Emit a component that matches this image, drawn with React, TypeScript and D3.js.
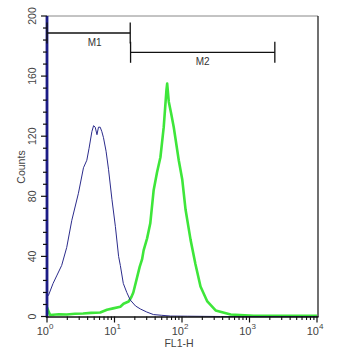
import React from "react";
import * as d3 from "d3";

// Isotype control histogram (navy)
const blueFL1 = [1, 1, 1.05, 1.23, 1.39, 1.65, 1.96, 2.33, 2.92, 3.47, 3.89, 4.2, 4.62, 4.9, 5.18, 5.5, 5.79, 6.14, 6.5, 6.87, 7.5, 8.15, 9.16, 10.3, 11.5, 12.2, 13.5, 15.2, 17.1, 20.5, 24.2, 30, 37.7, 50, 67.5, 120, 372, 1000, 10000];
const blueCounts = [200, 14, 14, 22, 27, 34, 46, 64, 82, 99, 104, 112, 123, 127, 126, 121, 126, 126, 123, 119, 110, 98, 78, 60, 40, 34, 22, 16, 11, 7, 5, 3, 1.3, 0.8, 0.3, 0.2, 0, 0, 0];

// Antibody-stained histogram (green)
const greenFL1 = [1, 1.11, 1.5, 1.96, 2.6, 3.43, 4.5, 6.14, 7.73, 9.55, 12.2, 13.6, 16.2, 17.8, 19, 21.6, 23.6, 25.6, 27, 30.4, 33.9, 38, 42.7, 47.9, 53.6, 58.9, 60.3, 63.7, 69.2, 75.5, 89.5, 101, 113, 134, 158, 188, 237, 315, 526, 1156, 3000, 10000];
const greenCounts = [6, 1, 1.5, 1.3, 1.8, 2, 2.4, 2.7, 4.5, 5.4, 6.5, 8.5, 10, 13, 16, 26, 33, 38, 44, 52, 62, 84, 96, 106, 126, 151, 155, 143, 135, 126, 104, 91, 71, 51, 35, 20, 10, 4, 1.3, 0.4, 0.4, 0.4];

// Markers
const markerNames = ["M1", "M2"];
const markerStart = [1, 17.3];
const markerEnd = [17.1, 2373];

// Ticks
const yMajorTicks = [0, 40, 80, 120, 160, 200];
const xDecades = [1, 10, 100, 1000, 10000];
const xExponents = ["0", "1", "2", "3", "4"];

export default function App() {
  const left = 47, right = 317, top = 16, bottom = 316.5;
  const x = d3.scaleLog().domain([1, 10000]).range([left, right]);
  const y = d3.scaleLinear().domain([0, 200]).range([bottom, top]);

  const line = d3
    .line<[number, number]>()
    .x((d) => x(d[0]))
    .y((d) => y(d[1]));

  const bluePts = blueFL1.map((v, i) => [v, blueCounts[i]] as [number, number]);
  const greenPts = greenFL1.map((v, i) => [v, greenCounts[i]] as [number, number]);

  const yMinor = d3.range(0, 201, 8).filter((v) => !yMajorTicks.includes(v));
  const xMinor: number[] = [];
  for (let d = 1; d < 10000; d *= 10) for (let k = 2; k <= 9; k++) xMinor.push(d * k);

  const font = "'Liberation Sans', Arial, sans-serif";
  const markerY = [33, 52.3];
  const labelY = [46, 65];

  return (
    <svg width={350} height={350} style={{ position: "absolute", left: 0, top: 0, background: "#fff" }}>
      <rect x={0} y={0} width={350} height={350} fill="#fff" />
      {/* frame */}
      <line x1={left} x2={right + 1} y1={top} y2={top} stroke="#888" strokeWidth={1} />
      <line x1={right + 1} x2={right + 1} y1={top} y2={bottom + 0.5} stroke="#111" strokeWidth={1.2} />

      {/* curves */}
      <path d={line(greenPts) || ""} fill="none" stroke="#3ee63a" strokeWidth={2.6} strokeLinejoin="round" />
      <path d={line(bluePts) || ""} fill="none" stroke="#2c2c8c" strokeWidth={1} strokeLinejoin="round" />

      {/* y axis */}
      <line x1={left} x2={left} y1={top} y2={bottom + 1} stroke="#1c1c86" strokeWidth={2.8} />
      {yMajorTicks.map((v) => (
        <g key={"ym" + v}>
          <line x1={left - 6} x2={left} y1={y(v)} y2={y(v)} stroke="#111" strokeWidth={1.2} />
          <text
            transform={`translate(${36},${y(v)}) rotate(-90)`}
            textAnchor="middle"
            fontFamily={font}
            fontSize={10.5}
            fill="#444"
          >
            {v}
          </text>
        </g>
      ))}
      {yMinor.map((v) => (
        <line key={"yn" + v} x1={left - 4} x2={left} y1={y(v)} y2={y(v)} stroke="#111" strokeWidth={1.2} />
      ))}
      <text
        transform={`translate(${25},${167}) rotate(-90)`}
        textAnchor="middle"
        fontFamily={font}
        fontSize={10.5}
        fill="#444"
      >
        Counts
      </text>

      {/* x axis */}
      <line x1={left - 1} x2={right + 1.5} y1={bottom + 0.5} y2={bottom + 0.5} stroke="#111" strokeWidth={1.4} />
      {xDecades.map((v, i) => (
        <g key={"xm" + v}>
          <line x1={x(v)} x2={x(v)} y1={bottom} y2={bottom + 6} stroke="#111" strokeWidth={1.2} />
          <text x={x(v) - 2} y={335} textAnchor="middle" fontFamily={font} fontSize={11} fill="#444">
            10
            <tspan fontSize={8} dy={-6}>
              {xExponents[i]}
            </tspan>
          </text>
        </g>
      ))}
      {xMinor.map((v) => (
        <line key={"xn" + v} x1={x(v)} x2={x(v)} y1={bottom} y2={bottom + 3.5} stroke="#111" strokeWidth={1.1} />
      ))}
      <text x={179} y={347} textAnchor="middle" fontFamily={font} fontSize={10.5} fill="#444">
        FL1-H
      </text>

      {/* markers */}
      {markerNames.map((name, i) => {
        const x1 = x(markerStart[i]);
        const x2 = x(markerEnd[i]);
        const my = markerY[i];
        return (
          <g key={name}>
            <line x1={x1} x2={x2} y1={my} y2={my} stroke="#111" strokeWidth={1.3} />
            <line x1={x1} x2={x1} y1={my - 10.5} y2={my + 10.5} stroke="#111" strokeWidth={1.3} />
            <line x1={x2} x2={x2} y1={my - 10.5} y2={my + 10.5} stroke="#111" strokeWidth={1.3} />
            <text x={(x1 + x2) / 2 + (i === 0 ? 6 : 0)} y={labelY[i]} textAnchor="middle" fontFamily={font} fontSize={10} fill="#333">
              {name}
            </text>
          </g>
        );
      })}
    </svg>
  );
}
